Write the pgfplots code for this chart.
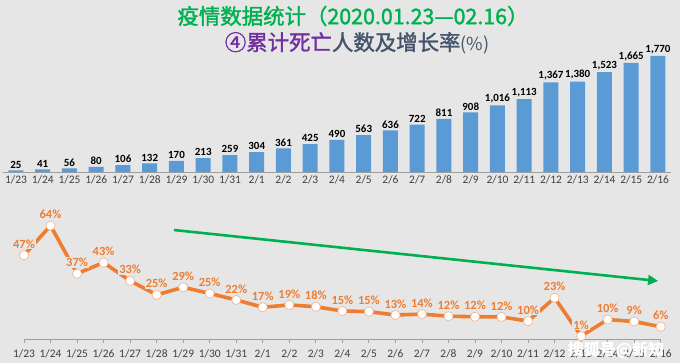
\documentclass[border=0pt]{standalone}
\usepackage{pgfplots}
\pgfplotsset{compat=1.18}
\usepackage{pgfplotstable}
\usepackage{fontspec}
\setmainfont{Carlito}
\newfontfamily\cjk{Noto Sans CJK SC}
\newfontfamily\cjkm[FakeBold=1.6]{Noto Sans CJK SC}
\usetikzlibrary{arrows.meta}
\definecolor{bgc}{HTML}{E7E6E6}
\definecolor{barc}{HTML}{5B9BD5}
\definecolor{orc}{HTML}{ED7D31}
\definecolor{grn}{HTML}{00B050}
\definecolor{pur}{HTML}{7030A0}
\definecolor{ttl}{HTML}{44546A}
\definecolor{tkc}{HTML}{404040}

\pgfplotstableread{
x y
0 25
1 41
2 56
3 80
4 106
5 132
6 170
7 213
8 259
9 304
10 361
11 425
12 490
13 563
14 636
15 722
16 811
17 908
18 1016
19 1113
20 1367
21 1380
22 1523
23 1665
24 1770
}\deaths

\pgfplotstableread{
x y lab
0 47.1 47
1 64.0 64
2 36.6 37
3 42.9 43
4 32.5 33
5 24.5 25
6 28.8 29
7 25.3 25
8 21.6 22
9 17.4 17
10 18.75 19
11 17.7 18
12 15.3 15
13 14.9 15
14 13.0 13
15 13.5 14
16 12.3 12
17 12.0 12
18 11.9 12
19 9.5 10
20 22.8 23
21 0.95 1
22 10.4 10
23 9.3 9
24 6.3 6
}\growth

\def\dates{1/23,1/24,1/25,1/26,1/27,1/28,1/29,1/30,1/31,2/1,2/2,2/3,2/4,2/5,2/6,2/7,2/8,2/9,2/10,2/11,2/12,2/13,2/14,2/15,2/16}

\begin{document}
\begin{tikzpicture}[x=1bp,y=1bp]
\fill[bgc] (0,0) rectangle (680,363);
\useasboundingbox (0,0) rectangle (680,363);

\node[text=grn, font=\cjkm\fontsize{21.5}{24}\selectfont] at (353,347) {疫情数据统计（2020.01.23—02.16）};
\node[font=\cjkm\fontsize{21.5}{24}\selectfont] at (357,320) {\textcolor{pur}{④累计死亡}\textcolor{ttl}{人数及增长率}\textcolor{ttl}{\cjk\fontsize{18}{20}\selectfont(\%)}};

\begin{axis}[
  at={(2.6bp,191bp)}, anchor=south west,
  scale only axis, width=668.75bp, height=118bp,
  xmin=-0.5, xmax=24.5, ymin=0, ymax=1800,
  axis x line*=bottom, hide y axis,
  x axis line style={draw=gray!75, line width=0.8bp, -},
  xtick={0,...,24}, xticklabels/.expanded={\dates},
  major tick length=0pt,
  xticklabel style={font=\fontsize{11.5}{13}\selectfont, text=tkc, yshift=-0.5bp},
  clip=false,
  ybar, bar width=15bp,
  nodes near coords,
  every node near coord/.append style={font=\bfseries\fontsize{11}{12}\selectfont, text=black, inner sep=1bp, yshift=1bp},
  /pgf/number format/assume math mode=true,
  /pgf/number format/1000 sep={,},
]
\addplot[fill=barc, draw=none] table[x=x,y=y] {\deaths};
\end{axis}

\begin{axis}[
  at={(24bp,24bp)}, anchor=south west,
  scale only axis, width=636.7bp, height=123.9bp,
  xmin=0, xmax=24, ymin=-0.7, ymax=70,
  axis x line*=bottom, hide y axis,
  x axis line style={draw=gray!75, line width=0.8bp, -},
  xtick={0,...,24}, xticklabels/.expanded={\dates},
  tick align=outside, major tick length=4bp,
  xtick style={draw=gray!75, line width=0.8bp},
  xticklabel style={font=\fontsize{11.5}{13}\selectfont, text=tkc, yshift=-3bp},
  clip=false,
]
\draw[line width=2.6bp, grn, -{Triangle[length=10bp,width=10bp]}] (axis cs:5.65,61.5) -- (axis cs:23.9,32.4);
\addplot[orc, line width=3.6bp, mark=*, mark size=4.6bp,
  mark options={fill=white, draw=orc!60, line width=0.6bp},
  point meta=explicit,
  nodes near coords={\pgfmathprintnumber[precision=0,assume math mode=true]{\pgfplotspointmeta}\%},
  every node near coord/.append style={font=\bfseries\fontsize{12.5}{14}\selectfont, text=orc, fill=bgc, inner sep=1bp, anchor=south, yshift=5.5bp},
] table[x=x,y=y,meta=lab] {\growth};
\end{axis}

\node[text=white, font=\cjk\bfseries\fontsize{16}{18}\selectfont] at (616,13) {搜狐号@新知};
\end{tikzpicture}
\end{document}
